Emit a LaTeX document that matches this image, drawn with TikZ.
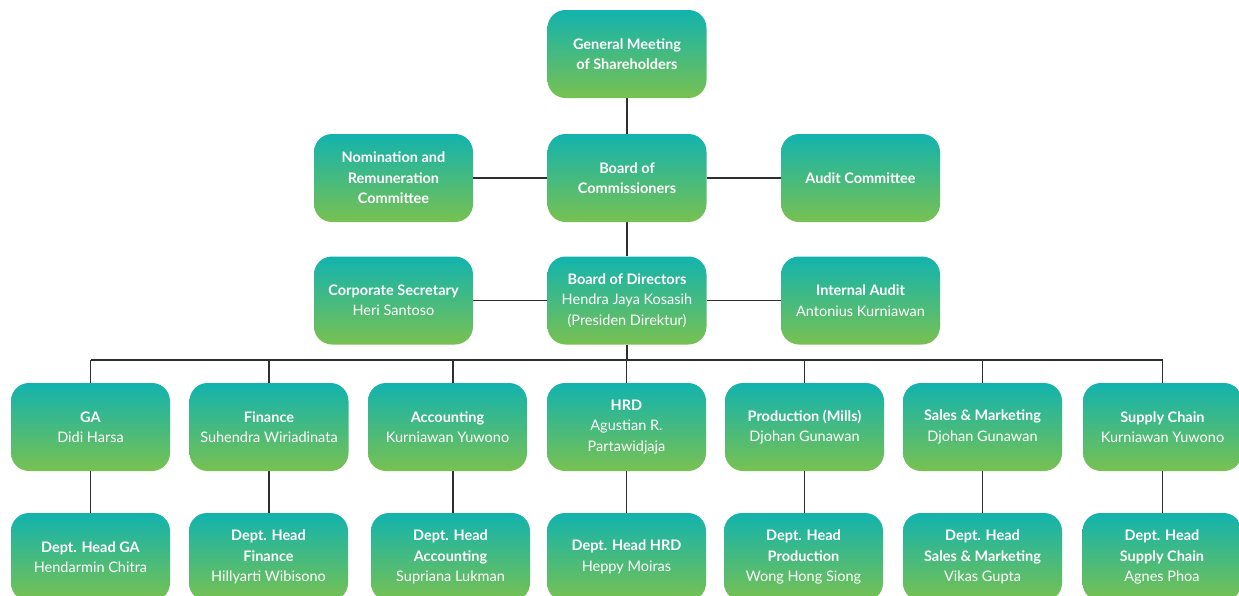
\documentclass[tikz,border=0pt]{standalone}
\usepackage{fontspec}
\setmainfont{Lato}
\usetikzlibrary{backgrounds}
\definecolor{gtop}{HTML}{12B3AE}
\definecolor{gbot}{HTML}{78C151}
\definecolor{linec}{HTML}{2E2E2E}
\begin{document}
\begin{tikzpicture}[x=1pt,y=-1pt,
  orgbox/.style={rounded corners=18pt, top color=gtop, bottom color=gbot,
    minimum width=159pt, minimum height=88pt, inner sep=0pt, align=center,
    text=white, font=\fontsize{14.5}{20.5}\selectfont},
  conn/.style={draw=linec, line width=1.3pt}]
\useasboundingbox (0,0) rectangle (1239,595);
\clip (0,0) rectangle (1239,595);
% row 1
\node[orgbox] (gms) at (627,54) {\textbf{General Meeting}\\\textbf{of Shareholders}};
% row 2
\node[orgbox] (nom) at (393.5,178) {\textbf{Nomination and}\\\textbf{Remuneration}\\\textbf{Committee}};
\node[orgbox] (boc) at (627,178) {\textbf{Board of}\\\textbf{Commissioners}};
\node[orgbox] (aud) at (860.5,178) {\textbf{Audit Committee}};
% row 3
\node[orgbox] (sec) at (393.5,300.5) {\textbf{Corporate Secretary}\\Heri Santoso};
\node[orgbox] (bod) at (627,300.5) {\textbf{Board of Directors}\\Hendra Jaya Kosasih\\(Presiden Direktur)};
\node[orgbox] (ia) at (860.5,300.5) {\textbf{Internal Audit}\\Antonius Kurniawan};
% row 4
\node[orgbox] (ga) at (90.5,427) {\textbf{GA}\\Didi Harsa};
\node[orgbox] (fin) at (269,427) {\textbf{Finance}\\Suhendra Wiriadinata};
\node[orgbox] (acc) at (447.5,427) {\textbf{Accounting}\\Kurniawan Yuwono};
\node[orgbox] (hrd) at (626.5,427) {\textbf{HRD}\\Agustian R.\\Partawidjaja};
\node[orgbox] (prod) at (804.5,427) {\textbf{Production (Mills)}\\Djohan Gunawan};
\node[orgbox] (sales) at (982.5,427) {\textbf{Sales \& Marketing}\\Djohan Gunawan};
\node[orgbox] (sup) at (1162.5,427) {\textbf{Supply Chain}\\Kurniawan Yuwono};
% row 5
\node[orgbox] (gad) at (90.5,557) {\textbf{Dept. Head GA}\\Hendarmin Chitra};
\node[orgbox] (find) at (268.5,557) {\textbf{Dept. Head}\\\textbf{Finance}\\Hillyarti Wibisono};
\node[orgbox] (accd) at (450.5,557) {\textbf{Dept. Head}\\\textbf{Accounting}\\Supriana Lukman};
\node[orgbox] (hrdd) at (626.5,557) {\textbf{Dept. Head HRD}\\Heppy Moiras};
\node[orgbox] (prodd) at (803.5,557) {\textbf{Dept. Head}\\\textbf{Production}\\Wong Hong Siong};
\node[orgbox] (salesd) at (982.5,557) {\textbf{Dept. Head}\\\textbf{Sales \& Marketing}\\Vikas Gupta};
\node[orgbox] (supd) at (1162,557) {\textbf{Dept. Head}\\\textbf{Supply Chain}\\Agnes Phoa};
% connectors
\coordinate (busL) at (90.5,360);
\coordinate (busR) at (1162.5,360);
\begin{scope}[on background layer]
\draw[conn] (gms) -- (boc);
\draw[conn] (nom) -- (boc);
\draw[conn] (boc) -- (aud);
\draw[conn] (boc) -- (bod);
\draw[conn] (sec) -- (bod);
\draw[conn] (bod) -- (ia);
\draw[conn] (bod.south) -- (bod.south |- busL);
\draw[conn] (busL) -- (busR);
\foreach \d/\e in {ga/gad,fin/find,hrd/hrdd,prod/prodd,sales/salesd,sup/supd}{
  \draw[conn] (\d.north |- busL) -- (\d.north);
  \draw[conn] (\d.south) -- (\d.south |- \e.north);
}
\draw[conn] ([xshift=5.5pt]acc.north |- busL) -- ([xshift=5.5pt]acc.north);
\draw[conn] ([xshift=5.5pt]acc.south) -- ([xshift=5.5pt]acc.south |- accd.north);
\end{scope}
\end{tikzpicture}
\end{document}
